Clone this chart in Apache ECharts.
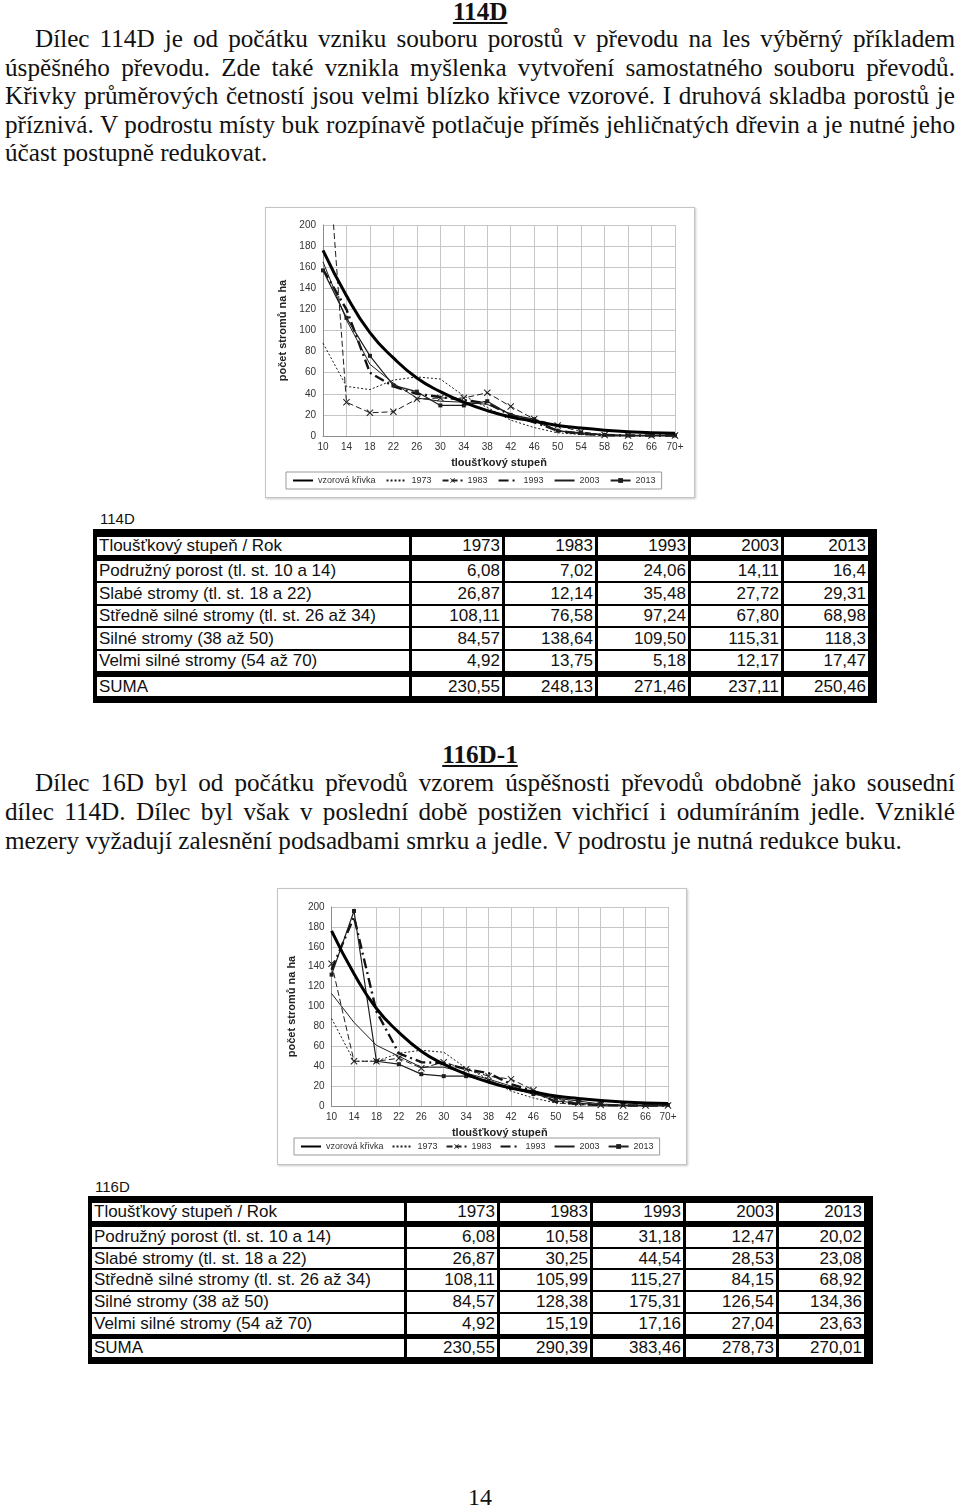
<!DOCTYPE html>
<html><head><meta charset="utf-8">
<script src="https://cdn.jsdelivr.net/npm/echarts@6/dist/echarts.min.js"></script>
<style>
html,body{margin:0;padding:0;background:#fff}
body{width:960px;height:1509px;position:relative;overflow:hidden;font-family:"Liberation Serif","Times New Roman",serif;color:#111}
.ln{position:absolute;font-size:26px;line-height:28px;height:28px;transform-origin:0 0;white-space:nowrap}
.just{text-align:justify;text-align-last:justify;white-space:normal;overflow:hidden}
.head{position:absolute;left:0;width:960px;text-align:center;font-size:26px;line-height:24px;height:24px;font-weight:bold}
.head span{display:inline-block;text-decoration:underline;text-decoration-thickness:2px;text-underline-offset:2px}
.frame{position:absolute;border:1px solid #c4c4c4;box-shadow:1px 1px 2px #c8c8c8;background:#fff}
.tlabel{position:absolute;font-family:"Liberation Sans",Arial,sans-serif;font-size:15px;color:#111}
.tbl{position:absolute;background:#000;font-family:"Liberation Sans",Arial,sans-serif;font-size:17px;color:#111}
.cell{position:absolute;background:#fff;overflow:hidden;white-space:nowrap;box-sizing:border-box}
.cell.l{text-align:left;padding-left:2px}
.cell.r{text-align:right;padding-right:2px}
</style></head>
<body>
<div id="page"></div>
<script>
// ---------- DATA ----------
const cats = ['10','14','18','22','26','30','34','38','42','46','50','54','58','62','66','70+'];
const seriesNames = ['vzorová křivka','1973','1983','1993','2003','2013'];

const vzor     = [176,133,98,74,55,42,32,24,18,14,10,7.5,5.5,4,3,2.5];
const c1_1973  = [88,47,44,53,56,54,38,27,15,8,3,1.5,0.5,0.3,0.2,0.2];
const c1_1983  = [337,32,22,23,35,36,36,41,28,16,10,4,1,0.5,0.5,0.5];
const c1_1993  = [158,120,60,47,40,37,34,31,20,13,5,2,1,0.5,0.5,0.5];
const c1_2003  = [165,110,68,50,36,33,32,30,21,14,5,2,1,0.5,0.5,0.5];
const c1_2013  = [157,112,76,48,42,29,29,33,20,16,5,3,1,0.5,0.5,0.5];

const c2_1973  = [88,45,45,53,56,54,38,27,15,8,3,1.5,0.5,0.3,0.2,0.2];
const c2_1983  = [143,45,45,48,38,44,37,30,27,16,7,3,1,0.5,0.5,0.5];
const c2_1993  = [137,190,95,53,44,43,37,33,22,15,4,2,1,0.5,0.5,0.5];
const c2_2003  = [113,84,61,50,39,39,33,27,20,13,5,3,1,0.5,0.5,0.5];
const c2_2013  = [132,196,45,42,32,30,30,25,18,12,8,5,2,1,1,1];

const xAxisName = 'tloušťkový stupeň';
const yAxisName = 'počet stromů na ha';

const tableHeader = ['Tloušťkový stupeň / Rok','1973','1983','1993','2003','2013'];
const rowLabels = ['Podružný porost (tl. st. 10 a 14)','Slabé stromy (tl. st. 18 a 22)','Středně silné stromy (tl. st. 26 až 34)','Silné stromy (38 až 50)','Velmi silné stromy (54 až 70)'];
const sumLabel = 'SUMA';
const t114_r1 = ['6,08','7,02','24,06','14,11','16,4'];
const t114_r2 = ['26,87','12,14','35,48','27,72','29,31'];
const t114_r3 = ['108,11','76,58','97,24','67,80','68,98'];
const t114_r4 = ['84,57','138,64','109,50','115,31','118,3'];
const t114_r5 = ['4,92','13,75','5,18','12,17','17,47'];
const t114_sum = ['230,55','248,13','271,46','237,11','250,46'];
const t116_r1 = ['6,08','10,58','31,18','12,47','20,02'];
const t116_r2 = ['26,87','30,25','44,54','28,53','23,08'];
const t116_r3 = ['108,11','105,99','115,27','84,15','68,92'];
const t116_r4 = ['84,57','128,38','175,31','126,54','134,36'];
const t116_r5 = ['4,92','15,19','17,16','27,04','23,63'];
const t116_sum = ['230,55','290,39','383,46','278,73','270,01'];

const para1 = [
 'Dílec 114D je od počátku vzniku souboru porostů v\u00a0převodu na les výběrný příkladem',
 'úspěšného převodu. Zde také vznikla myšlenka vytvoření samostatného souboru převodů.',
 'Křivky průměrových četností jsou velmi blízko křivce vzorové. I druhová skladba porostů je',
 'příznivá. V podrostu místy buk rozpínavě potlačuje příměs jehličnatých dřevin a je nutné jeho',
 'účast postupně redukovat.'
];
const para2 = [
 'Dílec 16D byl od počátku převodů vzorem úspěšnosti převodů obdobně jako sousední',
 'dílec 114D. Dílec byl však v\u00a0poslední době postižen vichřicí i odumíráním jedle. Vzniklé',
 'mezery vyžadují zalesnění podsadbami smrku a jedle. V podrostu je nutná redukce buku.'
];

// ---------- TEXT LAYOUT ----------
const page = document.getElementById('page');
const ctx = document.createElement('canvas').getContext('2d');
ctx.font = '26px "Liberation Serif"';
const sA = 263 / ctx.measureText(para1[4]).width;
const sB = 895 / ctx.measureText(para2[2]).width;
const S = (sA + sB) / 2;

function addLine(text, centerY, left, right, justify){
  const d = document.createElement('div');
  d.className = 'ln' + (justify ? ' just' : '');
  d.textContent = text;
  d.style.left = left + 'px';
  d.style.top = (centerY - 15) + 'px';
  d.style.transform = 'scaleX(' + S + ')';
  if (justify) d.style.width = ((right - left) / S) + 'px';
  page.appendChild(d);
}
function addHead(text, top){
  const d = document.createElement('div');
  d.className = 'head';
  d.style.top = top + 'px';
  const sp = document.createElement('span');
  sp.textContent = text;
  sp.style.transform = 'scaleX(' + S + ')';
  d.appendChild(sp);
  page.appendChild(d);
}
addHead('114D', 0);
const p1y = [40, 69, 97, 126, 154];
para1.forEach((t, i) => addLine(t, p1y[i], i === 0 ? 35 : 5, 955, i < 4));
addHead('116D-1', 743);
const p2y = [784, 813, 842];
para2.forEach((t, i) => addLine(t, p2y[i], i === 0 ? 35 : 5, 955, i < 2));
(function(){
  const d = document.createElement('div');
  d.className = 'head';
  d.style.fontWeight = 'normal';
  d.style.fontSize = '24px';
  d.style.top = (1497 - 12) + 'px';
  d.textContent = '14';
  page.appendChild(d);
})();

// ---------- TABLES ----------
function addTable(label, labelX, labelY, box, colX, rowsY, rows){
  const lb = document.createElement('div');
  lb.className = 'tlabel';
  lb.textContent = label;
  lb.style.left = labelX + 'px';
  lb.style.top = (labelY - 9) + 'px';
  page.appendChild(lb);
  const t = document.createElement('div');
  t.className = 'tbl';
  t.style.left = box[0] + 'px'; t.style.top = box[1] + 'px';
  t.style.width = (box[2] - box[0]) + 'px'; t.style.height = (box[3] - box[1]) + 'px';
  page.appendChild(t);
  rows.forEach((row, ri) => {
    const y0 = rowsY[ri][0], y1 = rowsY[ri][1];
    row.forEach((txt, ci) => {
      const c = document.createElement('div');
      c.className = 'cell ' + (ci === 0 ? 'l' : 'r');
      c.textContent = txt;
      c.style.left = (colX[ci][0] - box[0]) + 'px';
      c.style.width = (colX[ci][1] - colX[ci][0]) + 'px';
      c.style.top = (y0 - box[1]) + 'px';
      c.style.height = (y1 - y0) + 'px';
      c.style.lineHeight = (y1 - y0) + 'px';
      t.appendChild(c);
    });
  });
}
const rows114 = [tableHeader,
  [rowLabels[0]].concat(t114_r1),[rowLabels[1]].concat(t114_r2),[rowLabels[2]].concat(t114_r3),
  [rowLabels[3]].concat(t114_r4),[rowLabels[4]].concat(t114_r5),[sumLabel].concat(t114_sum)];
const rows116 = [tableHeader,
  [rowLabels[0]].concat(t116_r1),[rowLabels[1]].concat(t116_r2),[rowLabels[2]].concat(t116_r3),
  [rowLabels[3]].concat(t116_r4),[rowLabels[4]].concat(t116_r5),[sumLabel].concat(t116_sum)];

addTable('114D', 100, 519, [93,529,877,703],
  [[97,409],[412,502],[505,595],[598,688],[691,781],[784,868]],
  [[537,555],[561,581],[583,604],[606,626],[628,649],[651,671],[677,696]], rows114);
addTable('116D', 95, 1187, [88,1196,873,1364],
  [[92,404],[407,497],[500,590],[593,683],[686,776],[779,864]],
  [[1203,1221],[1227,1247],[1249,1268],[1270,1290],[1292,1312],[1314,1334],[1339,1357]], rows116);

// ---------- CHARTS ----------
function makeChart(left, top, w, h, grid, legendLeft, legendTop, legendGap, d){
  const fr = document.createElement('div');
  fr.className = 'frame';
  fr.style.left = left + 'px'; fr.style.top = top + 'px';
  fr.style.width = w + 'px'; fr.style.height = h + 'px';
  page.appendChild(fr);
  const el = document.createElement('div');
  el.style.width = w + 'px'; el.style.height = h + 'px';
  fr.appendChild(el);
  const ch = echarts.init(el, null, {renderer: 'canvas'});
  const col = '#1e1e1e';
  const xPath = 'path://M0,1L1,0L5,4L9,0L10,1L6,5L10,9L9,10L5,6L1,10L0,9L4,5Z';
  const hide = {opacity: 0};
  ch.setOption({
    animation: false,
    textStyle: {fontFamily: 'Arial, "Liberation Sans", sans-serif'},
    grid: grid,
    xAxis: {type: 'category', data: cats, boundaryGap: false,
      axisTick: {show: false},
      axisLine: {lineStyle: {color: '#8c8c8c'}},
      axisLabel: {fontSize: 10, color: '#333', margin: 6},
      splitLine: {show: true, lineStyle: {color: '#c6c6c6'}},
      name: xAxisName, nameLocation: 'middle', nameGap: 21,
      nameTextStyle: {fontSize: 11, fontWeight: 'bold', color: '#222'}},
    yAxis: {type: 'value', min: 0, max: 200, interval: 20,
      axisLine: {show: true, lineStyle: {color: '#8c8c8c'}},
      axisTick: {show: false},
      axisLabel: {fontSize: 10, color: '#333', margin: 7},
      splitLine: {lineStyle: {color: '#c6c6c6'}},
      name: yAxisName, nameLocation: 'middle', nameGap: 30,
      nameTextStyle: {fontSize: 11, fontWeight: 'bold', color: '#222'}},
    legend: {left: legendLeft, top: legendTop, orient: 'horizontal',
      borderColor: '#9a9a9a', borderWidth: 1, padding: [4, 6], itemGap: legendGap,
      itemWidth: 20, itemHeight: 6, textStyle: {fontSize: 9, color: '#333'},
      data: [
        {name: seriesNames[0], itemStyle: hide},
        {name: seriesNames[1], itemStyle: hide},
        {name: seriesNames[2]},
        {name: seriesNames[3], itemStyle: hide},
        {name: seriesNames[4], itemStyle: hide},
        {name: seriesNames[5]}
      ]},
    series: [
      {name: seriesNames[0], type: 'line', data: d[0], smooth: 0.5, symbol: 'none',
        lineStyle: {color: '#000', width: 3}, itemStyle: {color: '#000'}, z: 5},
      {name: seriesNames[1], type: 'line', data: d[1], symbol: 'none',
        lineStyle: {color: col, width: 1, type: [2, 2]}, itemStyle: {color: col}},
      {name: seriesNames[2], type: 'line', data: d[2], symbol: xPath, symbolSize: 7,
        lineStyle: {color: col, width: 1, type: [6, 3]}, itemStyle: {color: col}},
      {name: seriesNames[3], type: 'line', data: d[3], symbol: 'none',
        lineStyle: {color: '#111', width: 2.4, type: [10, 4, 2, 4]}, itemStyle: {color: '#111'}},
      {name: seriesNames[4], type: 'line', data: d[4], symbol: 'none',
        lineStyle: {color: col, width: 1}, itemStyle: {color: col}},
      {name: seriesNames[5], type: 'line', data: d[5], symbol: 'rect', symbolSize: 4,
        lineStyle: {color: col, width: 1.2}, itemStyle: {color: col}}
    ]
  });
}
makeChart(265, 207, 428, 289, {left: 57, top: 17, width: 352, height: 211}, 20, 264, 10,
  [vzor, c1_1973, c1_1983, c1_1993, c1_2003, c1_2013]);
makeChart(277, 888, 408, 275, {left: 52, top: 18, width: 338, height: 199}, 16, 249, 8,
  [vzor, c2_1973, c2_1983, c2_1993, c2_2003, c2_2013]);
</script>
</body></html>
